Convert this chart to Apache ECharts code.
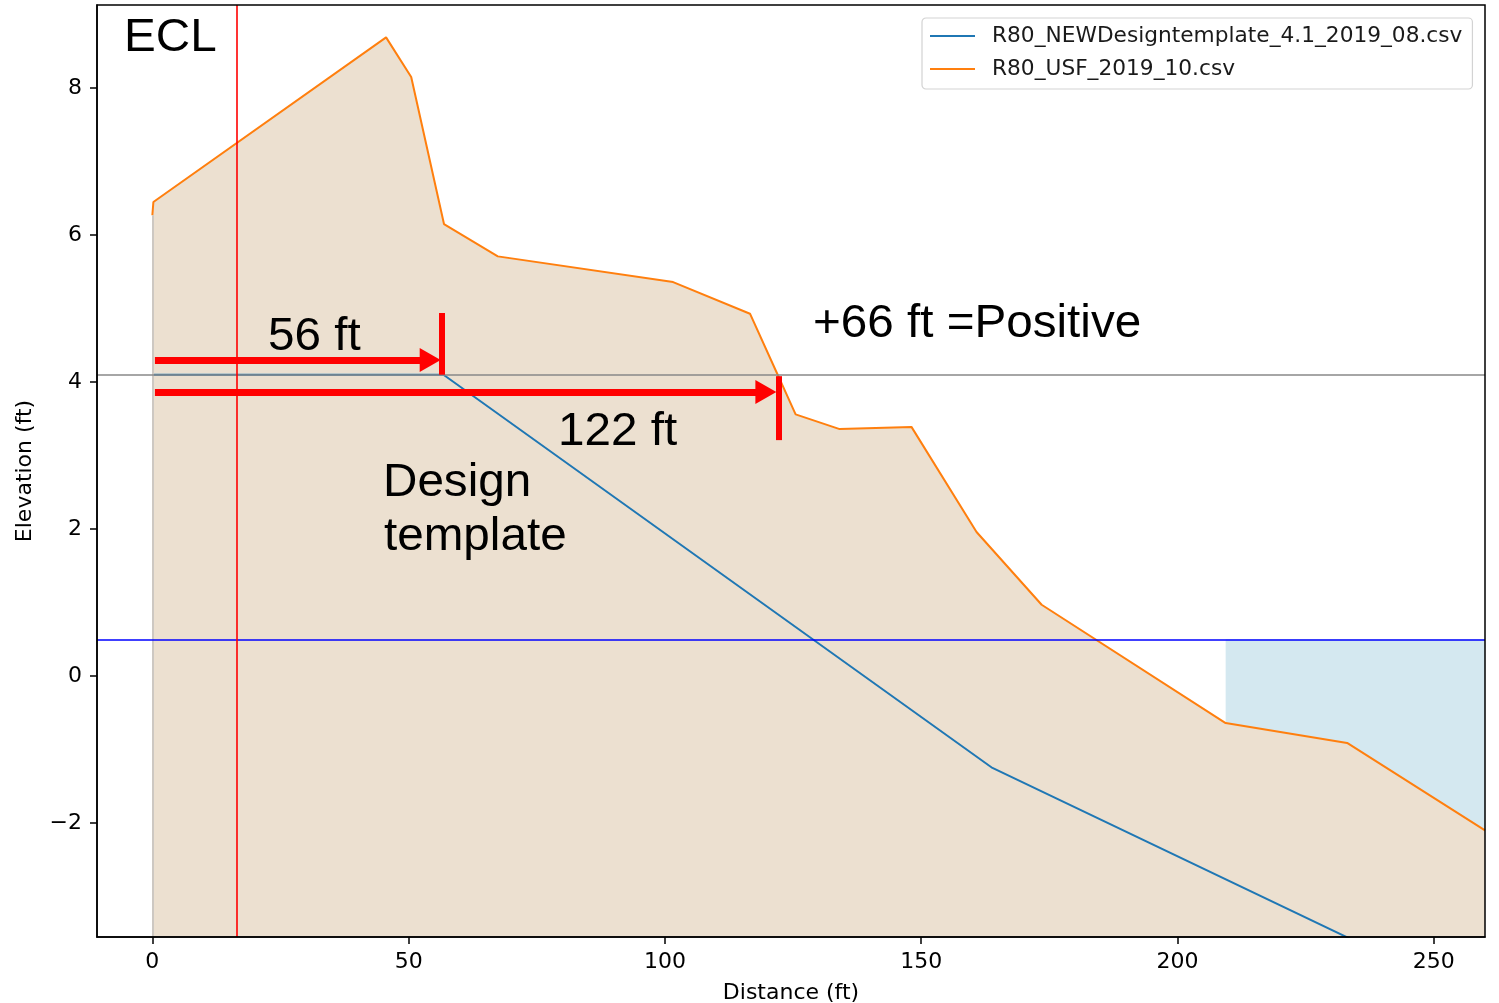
<!DOCTYPE html>
<html><head><meta charset="utf-8">
<script src="https://cdn.jsdelivr.net/npm/echarts@6/dist/echarts.min.js"></script>
<style>html,body{margin:0;padding:0;background:#fff}#c{width:1499px;height:1003px}</style>
</head><body><div id="c"></div>
<script>
// ---- data ----
const usfName = 'R80_USF_2019_10.csv';
const designName = 'R80_NEWDesigntemplate_4.1_2019_08.csv';
const usfX = [0, 0.2, 45.6, 50.5, 56.9, 67.4, 101.6, 116.6, 122.0, 125.5, 134.1, 148.1, 160.8, 173.5, 209.4, 233.1, 260];
const usfY = [6.27, 6.45, 8.69, 8.15, 6.15, 5.71, 5.36, 4.93, 4.10, 3.56, 3.36, 3.39, 1.96, 0.97, -0.64, -0.91, -2.10];
const designX = [0, 56.8, 163.9, 260];
const designY = [4.10, 4.10, -1.25, -4.45];
const xTicks = [0, 50, 100, 150, 200, 250];
const yTicks = [-2, 0, 2, 4, 6, 8];
const refLevel = 4.1;     // grey horizontal line
const waterLevel = 0.5;   // blue horizontal line
const eclX = 16.4;        // red vertical line (ECL)
const blueFillStartX = 209.4;
// annotation arrows (data units)
const arrow56 = {y: 4.30, x0: 0.5, x1: 54.2, barX: 56.5, barY0: 4.94, barY1: 4.10};
const arrow122 = {y: 3.865, x0: 0.5, x1: 119.7, barX: 122.25, barY0: 4.08, barY1: 3.21};

const X_MIN = -10.8, X_MAX = 260, Y_MIN = -3.55, Y_MAX = 9.13;

const usfData = usfX.map((x, i) => [x, usfY[i]]);
const designData = designX.map((x, i) => [x, designY[i]]);

const tickFont = {fontFamily: 'DejaVu Sans', fontSize: 22, color: '#000'};
const annFont = 'Liberation Sans';

function arrowLines(a) {
  return [
    [{coord: [a.x0, a.y], symbol: 'none'}, {coord: [a.x1, a.y], symbol: 'triangle', symbolSize: [24, 21]}],
    [{coord: [a.barX, a.barY0], symbol: 'none', lineStyle: {width: 6}}, {coord: [a.barX, a.barY1], symbol: 'none'}]
  ];
}
function ann(text, x, y) {
  return {type: 'text', x: x, y: y, z: 100, scaleX: 1.035,
    style: {text: text, fontFamily: annFont, fontSize: 46, fill: '#000', verticalAlign: 'middle'}};
}

const chart = echarts.init(document.getElementById('c'), null, {renderer: 'canvas'});
chart.setOption({
  animation: false,
  backgroundColor: '#fff',
  grid: {left: 97, right: 14, top: 5, bottom: 66, show: true, z: 20, borderColor: '#000', borderWidth: 1.5,
    backgroundColor: 'transparent', containLabel: false, outerBoundsMode: 'none'},
  xAxis: {
    type: 'value', min: X_MIN, max: X_MAX, z: 20,
    axisLine: {show: true, onZero: false, lineStyle: {color: '#000', width: 1.5}},
    axisTick: {show: true, inside: false, length: 7, lineStyle: {color: '#000', width: 1.5}, customValues: xTicks},
    axisLabel: Object.assign({customValues: xTicks, margin: 14}, tickFont),
    splitLine: {show: false},
    name: 'Distance (ft)', nameLocation: 'middle', nameGap: 45, nameTextStyle: tickFont
  },
  yAxis: {
    type: 'value', min: Y_MIN, max: Y_MAX, z: 20,
    axisLine: {show: true, onZero: false, lineStyle: {color: '#000', width: 1.5}},
    axisTick: {show: true, inside: false, length: 7, lineStyle: {color: '#000', width: 1.5}, customValues: yTicks},
    axisLabel: Object.assign({customValues: yTicks, margin: 15,
      formatter: v => (v < 0 ? '\u2212' + Math.abs(v) : String(v))}, tickFont),
    splitLine: {show: false},
    name: 'Elevation (ft)', nameLocation: 'middle', nameGap: 61, nameRotate: 90, nameTextStyle: tickFont
  },
  legend: {
    data: [designName, usfName], orient: 'vertical', left: 922, top: 18,
    padding: [6, 10, 8, 8], itemGap: 9, itemWidth: 45, itemHeight: 2, icon: 'rect',
    backgroundColor: '#fff', borderColor: '#d3d3d3', borderWidth: 1.2, borderRadius: 4,
    selectedMode: false,
    textStyle: {fontFamily: 'DejaVu Sans', fontSize: 21.7, color: '#1a1a1a', lineHeight: 24, padding: [0, 0, 0, 12]}
  },
  series: [
    {
      name: 'waterFill', type: 'custom', coordinateSystem: 'cartesian2d', z: 1, silent: true,
      data: [[blueFillStartX, waterLevel]], encode: {x: 0, y: 1},
      renderItem: function (params, api) {
        const pts = [api.coord([blueFillStartX, waterLevel]), api.coord([X_MAX, waterLevel])];
        for (let i = usfX.length - 1; i >= 0; i--) {
          if (usfX[i] >= blueFillStartX) pts.push(api.coord([usfX[i], usfY[i]]));
        }
        return {type: 'polygon', shape: {points: pts}, style: {fill: '#d4e8f0'}};
      }
    },
    {
      name: usfName, type: 'line', z: 2, data: usfData, symbol: 'none', showSymbol: false,
      color: '#ff7f0e', itemStyle: {color: '#ff7f0e'},
      lineStyle: {color: '#ff7f0e', width: 2},
      areaStyle: {color: '#ece0d0', opacity: 1, origin: 'start'},
      markLine: {
        silent: true, symbol: ['none', 'none'], label: {show: false},
        lineStyle: {color: '#cdc8c2', width: 2, type: 'solid'},
        data: [[{coord: [0, Y_MIN]}, {coord: [usfX[0], usfY[0]]}]]
      }
    },
    {
      name: designName, type: 'line', z: 3, data: designData, symbol: 'none', showSymbol: false,
      color: '#1f77b4', itemStyle: {color: '#1f77b4'},
      lineStyle: {color: '#1f77b4', width: 2}
    },
    {
      name: 'refs', type: 'line', z: 4, data: [], silent: true,
      markLine: {
        silent: true, symbol: ['none', 'none'], label: {show: false},
        data: [
          {yAxis: refLevel, lineStyle: {color: '#888888', width: 1.6, type: 'solid'}},
          {yAxis: waterLevel, lineStyle: {color: '#0000ff', width: 1.6, type: 'solid'}},
          {xAxis: eclX, lineStyle: {color: '#ff0000', width: 1.6, type: 'solid'}}
        ]
      }
    },
    {
      name: 'arrows', type: 'line', z: 10, data: [], silent: true,
      markLine: {
        silent: true, label: {show: false},
        lineStyle: {color: '#ff0000', width: 7, type: 'solid', opacity: 1},
        itemStyle: {color: '#ff0000'},
        data: arrowLines(arrow56).concat(arrowLines(arrow122))
      }
    }
  ],
  graphic: [
    ann('ECL', 124, 38),
    ann('56 ft', 268, 337),
    ann('122 ft', 558, 432),
    ann('+66 ft =Positive', 813, 324),
    ann('Design', 383, 483),
    ann('template', 384, 537)
  ]
});
</script>
</body></html>
